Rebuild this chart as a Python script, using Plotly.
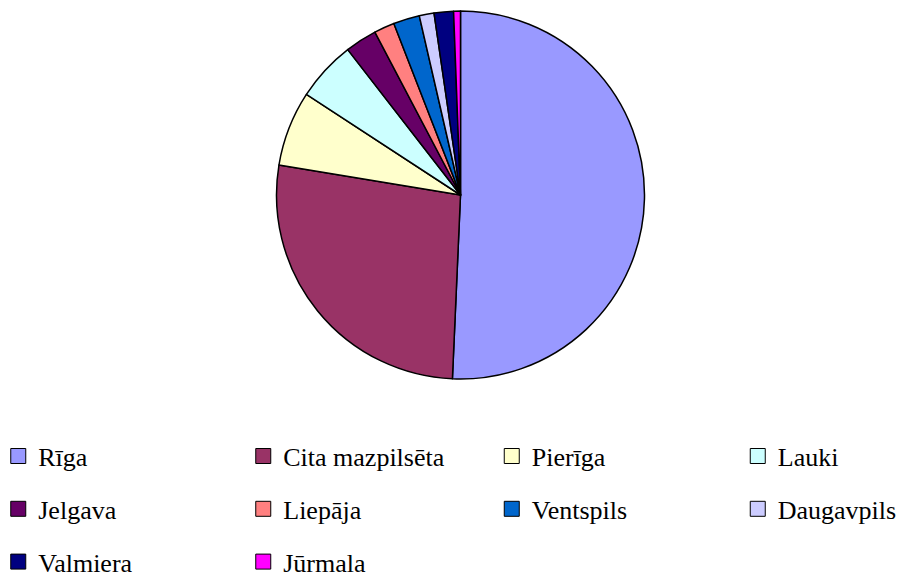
import plotly.graph_objects as go

labels = ["Rīga", "Cita mazpilsēta", "Pierīga", "Lauki", "Jelgava",
          "Liepāja", "Ventspils", "Daugavpils", "Valmiera", "Jūrmala"]
values = [50.7, 26.9, 6.6, 5.3, 2.8, 1.8, 2.3, 1.3, 1.7, 0.6]
colors = ["#9999FF", "#993366", "#FFFFCC", "#CCFFFF", "#660066",
          "#FF8080", "#0066CC", "#CCCCFF", "#000080", "#FF00FF"]

W, H = 899, 578
cx, cy, r = 460.5, 195, 184

fig = go.Figure()
fig.add_trace(go.Pie(
    labels=labels, values=values, sort=False, direction="clockwise", rotation=0,
    marker=dict(colors=colors, line=dict(color="black", width=1.5)),
    textinfo="none", hoverinfo="label+percent", showlegend=False,
    domain=dict(x=[(cx - r) / W, (cx + r) / W], y=[(H - cy - r) / H, (H - cy + r) / H]),
))

# legend entries: 4 columns, one legend per column
ncols = 4
col_x = [-1.75, 243.25, 491.75, 737.75]
for i, (lab, col) in enumerate(zip(labels, colors)):
    c = i % ncols
    lname = "legend" if c == 0 else f"legend{c + 1}"
    fig.add_trace(go.Scatter(
        x=[None], y=[None], mode="markers", name=lab,
        marker=dict(symbol="square", size=15, color=col, line=dict(color="black", width=1)),
        legend=lname, legendgroup=lab, showlegend=True,
    ))

fs = 26
legend_top = 432.6
common = dict(orientation="v", yanchor="top", xanchor="left", tracegroupgap=16.0,
              font=dict(family="Liberation Serif", size=fs, color="black"),
              bgcolor="rgba(0,0,0,0)", borderwidth=0)
layout_legends = {}
for c in range(ncols):
    key = "legend" if c == 0 else f"legend{c + 1}"
    layout_legends[key] = dict(x=col_x[c] / W, y=(H - legend_top) / H, **common)

fig.update_layout(
    width=W, height=H,
    margin=dict(l=0, r=0, t=0, b=0, autoexpand=False),
    paper_bgcolor="white", plot_bgcolor="white",
    font=dict(family="Liberation Serif"),
    xaxis=dict(visible=False), yaxis=dict(visible=False),
    **layout_legends,
)

fig.write_html(
    "out.html",
    config={"displayModeBar": False},
    post_script="document.body.style.margin='0';document.body.style.overflow='hidden';",
)
